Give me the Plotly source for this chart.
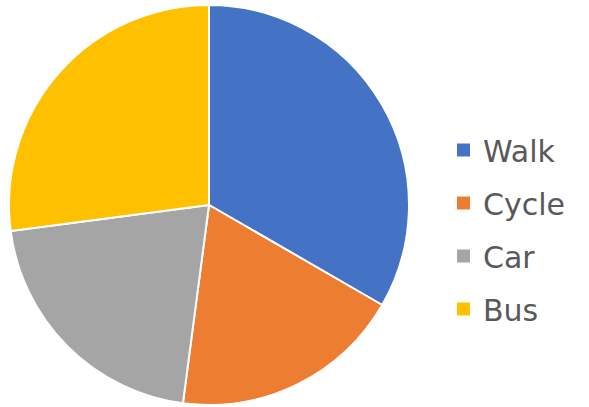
import plotly.graph_objects as go

# Travel mode shares
modes = ["Walk", "Cycle", "Car", "Bus"]
counts = [16, 9, 10, 13]
colors = ["#4472C4", "#ED7D31", "#A5A5A5", "#FFC000"]

W, H = 589, 407

fig = go.Figure(
    go.Pie(
        labels=modes,
        values=counts,
        sort=False,
        direction="clockwise",
        rotation=0,
        marker=dict(colors=colors, line=dict(color="white", width=2)),
        textinfo="none",
        hoverinfo="label+value+percent",
        domain=dict(x=[9 / W, 409 / W], y=[1 - 405 / H, 1 - 5 / H]),
        showlegend=False,
    )
)

# Custom legend: coloured squares with labels, evenly spaced
legend_top = 150
legend_step = 53
sq = 13
sq_x = 463.5
shapes = []
annotations = []
for i, (name, col) in enumerate(zip(modes, colors)):
    cy = legend_top + i * legend_step
    shapes.append(
        dict(
            type="rect",
            xref="paper",
            yref="paper",
            x0=(sq_x - sq / 2) / W,
            x1=(sq_x + sq / 2) / W,
            y0=1 - (cy + sq / 2) / H,
            y1=1 - (cy - sq / 2) / H,
            fillcolor=col,
            line=dict(width=0),
        )
    )
    annotations.append(
        dict(
            text=name,
            xref="paper",
            yref="paper",
            x=481 / W,
            y=1 - (cy + 1) / H,
            xanchor="left",
            yanchor="middle",
            showarrow=False,
            font=dict(family="DejaVu Sans", size=30, color="#595959"),
        )
    )

fig.update_layout(
    width=W,
    height=H,
    margin=dict(l=0, r=0, t=0, b=0),
    paper_bgcolor="white",
    plot_bgcolor="white",
    shapes=shapes,
    annotations=annotations,
)

fig.write_html("out.html")
